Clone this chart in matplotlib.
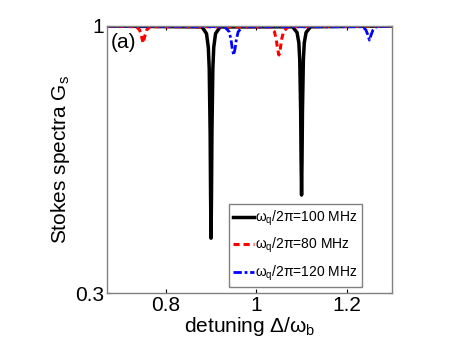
import matplotlib as mpl
mpl.use('Agg')
import matplotlib.pyplot as plt

# omega_q/2pi = 100 MHz
x_100 = [0.67, 0.88, 0.89, 0.894, 0.896, 0.898, 0.899, 0.9, 0.901, 0.902, 0.904, 0.906, 0.91, 0.92,
         1.08, 1.09, 1.094, 1.096, 1.098, 1.099, 1.1, 1.101, 1.102, 1.104, 1.106, 1.11, 1.12, 1.3]
g_100 = [1.0, 0.9975, 0.980, 0.944, 0.889, 0.722, 0.555, 0.444, 0.555, 0.722, 0.889, 0.944, 0.980, 0.9975,
         0.998, 0.983, 0.956, 0.911, 0.778, 0.645, 0.557, 0.645, 0.778, 0.911, 0.956, 0.983, 0.998, 1.0]

# omega_q/2pi = 80 MHz
x_80 = [0.67, 0.735, 0.742, 0.746, 0.75, 0.754, 0.758, 0.765,
        1.03, 1.04, 1.044, 1.047, 1.05, 1.053, 1.056, 1.06, 1.07, 1.3]
g_80 = [1.0, 0.998, 0.99, 0.975, 0.955, 0.975, 0.99, 0.998,
        0.998, 0.985, 0.965, 0.94, 0.924, 0.94, 0.965, 0.985, 0.998, 1.0]

# omega_q/2pi = 120 MHz
x_120 = [0.67, 0.93, 0.94, 0.944, 0.947, 0.95, 0.953, 0.956, 0.96, 0.97,
         1.235, 1.242, 1.246, 1.25, 1.254, 1.258, 1.265, 1.3]
g_120 = [1.0, 0.998, 0.985, 0.965, 0.94, 0.924, 0.94, 0.965, 0.985, 0.998,
         0.998, 0.99, 0.978, 0.963, 0.978, 0.99, 0.998, 1.0]

labels = [r'$\omega_q$/2$\pi$=100 MHz', r'$\omega_q$/2$\pi$=80 MHz', r'$\omega_q$/2$\pi$=120 MHz']

plt.rcParams['font.family'] = ['Liberation Sans', 'DejaVu Sans']
plt.rcParams['mathtext.fontset'] = 'custom'
plt.rcParams['mathtext.rm'] = 'Liberation Sans'
plt.rcParams['mathtext.it'] = 'Liberation Sans'

fig = plt.figure(figsize=(4.69, 3.61), dpi=100)
ax = fig.add_axes([0.228, 0.188, 0.608, 0.740])

ax.plot(x_100, g_100, '-', color='black', lw=2.5, label=labels[0])
ax.plot(x_80, g_80, color='red', lw=2.2, dashes=(2, 1.3), label=labels[1])
ax.plot(x_120, g_120, color='blue', lw=2.0, dashes=(3, 1, 1, 1), label=labels[2])

ax.set_xlim(0.67, 1.3)
ax.set_ylim(0.3, 1.0)
ax.set_xticks([0.8, 1.0, 1.2])
ax.set_xticklabels(['0.8', '1', '1.2'])
ax.set_yticks([0.3, 1.0])
ax.set_yticklabels(['0.3', '1'])
ax.tick_params(direction='in', length=3, labelsize=15, colors='black', pad=2,
               top=True, right=True)
for s in ax.spines.values():
    s.set_color('#808080')
    s.set_linewidth(1.0)

ax.set_xlabel(r'detuning $\Delta$/$\omega_b$', fontsize=15, labelpad=0)
ax.set_ylabel(r'Stokes spectra G$_s$', fontsize=15, labelpad=2)
ax.text(0.012, 0.975, '(a)', transform=ax.transAxes, fontsize=15, va='top', ha='left')

leg = ax.legend(loc='lower right', bbox_to_anchor=(0.895, 0.022), fontsize=10,
                handlelength=1.5, handletextpad=0.1, fancybox=False, framealpha=1,
                borderpad=0.3, labelspacing=0.6, borderaxespad=0)
leg.get_frame().set_edgecolor('#808080')

fig.savefig('out.png', dpi=100)
